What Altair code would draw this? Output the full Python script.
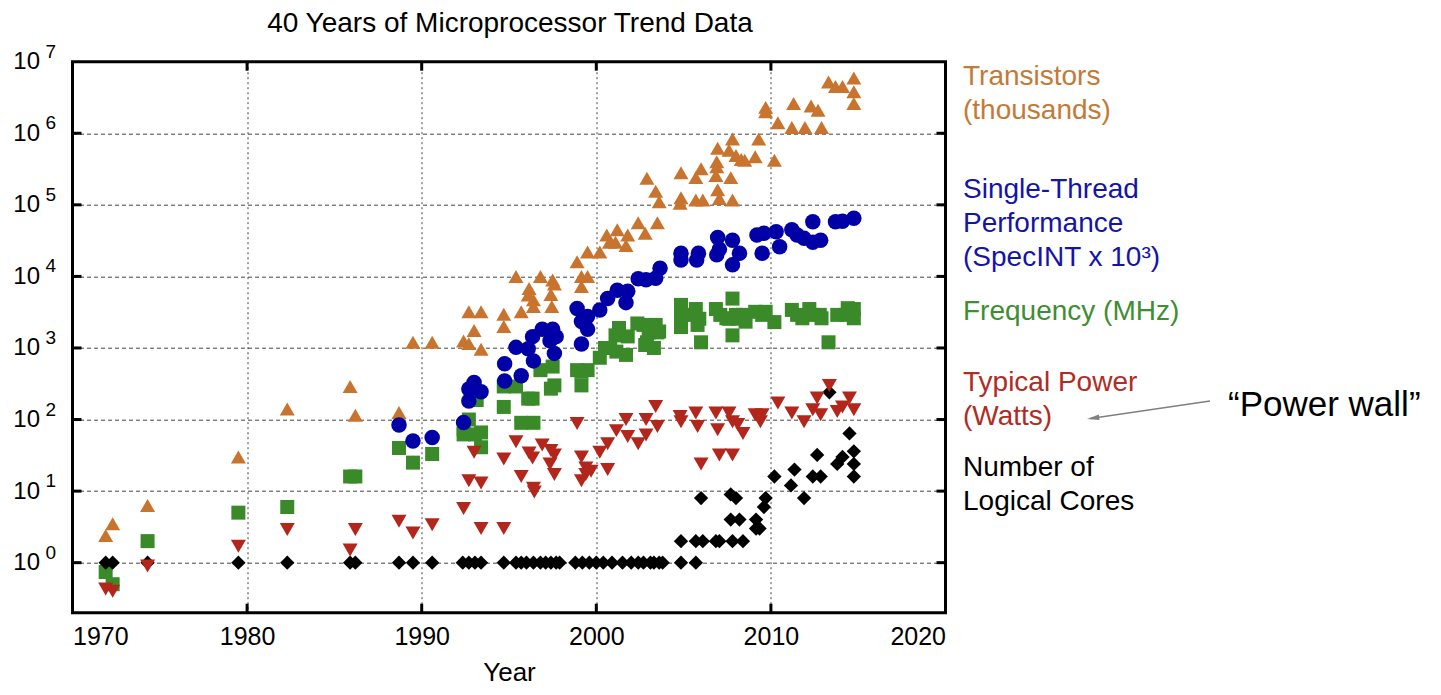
import altair as alt
import pandas as pd

# ---------------- data ----------------
trans_year = [1971.9, 1972.3, 1974.3, 1979.5, 1982.3, 1985.9, 1986.2, 1988.7, 1989.5, 1990.6,
              1992.4, 1992.7, 1992.7, 1993.4, 1993.0, 1993.4, 1994.7, 1994.7, 1995.4, 1995.7,
              1996.1, 1996.15, 1996.4, 1996.4, 1996.8, 1997.4, 1997.5, 1997.6, 1997.45, 1998.9,
              1999.15, 1999.5, 1999.15, 1999.5, 2000.2, 2000.6, 2000.75, 2001.2, 2001.1, 2001.7,
              2001.8, 2002.4, 2002.8, 2003.5, 2002.9, 2003.4, 2003.6, 2004.85, 2004.85, 2004.8,
              2006.0, 2005.7, 2005.7, 2006.1, 2006.9, 2006.9, 2006.85, 2006.95, 2007.05, 2007.7,
              2007.8, 2007.8, 2006.95, 2007.6, 2008.0, 2008.3, 2008.5, 2009.3, 2009.1, 2010.2,
              2009.7, 2009.7, 2010.4, 2011.2, 2011.3, 2011.95, 2012.3, 2012.7, 2012.9, 2013.3,
              2013.7, 2014.1, 2014.75, 2014.75, 2014.75]
trans_val = [2.4, 3.5, 6.3, 30, 140, 290, 115, 125, 1200, 1200,
             1250, 1150, 3200, 3200, 1750, 960, 2950, 2000, 10000, 3200,
             5500, 6800, 4700, 3800, 10000, 5600, 8900, 7800, 3800, 16000,
             10000, 10000, 7200, 22000, 22000, 38000, 30000, 45000, 30000, 27000,
             38000, 56000, 40000, 56000, 235000, 155000, 110000, 280000, 126000, 105000,
             320000, 240000, 117000, 117000, 400000, 340000, 257000, 162000, 123000, 240000,
             117000, 830000, 617000, 580000, 490000, 430000, 420000, 830000, 470000, 420000,
             2300000, 2000000, 1400000, 1200000, 2600000, 1200000, 2400000, 2100000, 1200000, 5200000,
             4500000, 4500000, 5900000, 3800000, 2600000]

perf_year = [1988.7, 1989.5, 1990.6, 1992.4, 1992.7, 1992.7, 1993.0, 1993.4, 1994.75, 1994.75,
             1995.7, 1995.4, 1996.1, 1996.35, 1996.4, 1996.9, 1997.5, 1997.7, 1997.35, 1997.6,
             1998.9, 1999.15, 1999.5, 1999.5, 1999.15, 2000.2, 2000.65, 2001.2, 2001.8, 2001.7,
             2002.4, 2002.85, 2003.4, 2003.65, 2004.85, 2004.85, 2005.85, 2005.75, 2006.95, 2007.8,
             2006.9, 2007.05, 2008.2, 2007.8, 2009.2, 2009.6, 2010.3, 2009.5, 2010.5, 2011.2,
             2011.5, 2011.9, 2012.4, 2012.85, 2012.4, 2013.7, 2014.1, 2014.75]
perf_val = [84, 50, 56, 91, 181, 268, 330, 245, 600, 345,
            410, 1020, 975, 1440, 660, 1830, 1830, 1440, 1260, 840,
            3570, 2340, 2750, 1830, 1140, 3400, 4900, 6400, 6200, 4300,
            9300, 9000, 9400, 13000, 21000, 17000, 21000, 17000, 35000, 32000,
            20000, 24000, 21000, 14500, 38000, 40000, 42000, 21000, 26000, 45000,
            38000, 34000, 30000, 32000, 58000, 58000, 59000, 65000]

freq_year = [1971.9, 1972.3, 1974.3, 1979.5, 1982.3, 1985.9, 1986.2, 1988.7, 1989.5, 1990.6,
             1992.4, 1992.7, 1992.4, 1993.05, 1993.4, 1993.4, 1993.15, 1994.7, 1994.7, 1995.4,
             1995.7, 1996.4, 1996.1, 1996.35, 1996.8, 1997.5, 1997.4, 1997.6, 1998.9, 1999.5,
             1999.15, 1999.15, 2000.2, 2000.5, 2000.8, 2001.15, 2001.7, 2001.3, 2001.1, 2001.8,
             2002.35, 2002.7, 2003.0, 2003.4, 2003.5, 2002.9, 2003.3, 2002.8, 2003.6, 2004.85,
             2004.85, 2004.85, 2005.25, 2005.7, 2005.9, 2005.8, 2006.0, 2006.85, 2007.1, 2007.45,
             2007.8, 2008.0, 2007.6, 2007.8, 2008.1, 2008.4, 2008.55, 2009.1, 2009.5, 2009.7,
             2010.2, 2011.2, 2011.5, 2011.8, 2012.2, 2012.4, 2012.8, 2012.9, 2013.3, 2013.8,
             2014.3, 2014.4, 2014.75, 2014.75]
freq_val = [0.74, 0.5, 2.0, 5.0, 6.0, 16, 16, 40, 25, 33,
            73, 100, 62, 62, 66, 41, 187, 290, 150, 290,
            90, 90, 196, 196, 490, 550, 270, 300, 490, 490,
            300, 466, 730, 1000, 1000, 890, 800, 1900, 1500, 1450,
            2200, 2100, 1650, 2100, 1650, 1200, 1000, 1100, 1700, 2900,
            1960, 4000, 2900, 3500, 2560, 2100, 1200, 3500, 2900, 2600,
            4900, 2900, 2560, 1500, 2560, 2900, 2330, 3200, 2900, 3200,
            2300, 3400, 2900, 2600, 3500, 2900, 2900, 2600, 1200, 2900,
            2900, 3600, 3500, 2600]

power_year = [1971.9, 1972.3, 1974.3, 1979.5, 1982.3, 1985.9, 1986.2, 1988.7, 1989.5, 1990.6,
              1992.4, 1992.7, 1993.4, 1993.4, 1993.0, 1994.7, 1994.7, 1995.4, 1995.7, 1996.15,
              1996.35, 1996.4, 1996.45, 1996.9, 1997.4, 1997.6, 1997.35, 1997.6, 1998.9, 1999.15,
              1999.4, 1999.4, 1999.15, 1999.7, 2000.2, 2000.65, 2000.65, 2001.15, 2001.7, 2001.8,
              2002.4, 2002.85, 2002.85, 2003.4, 2003.5, 2004.8, 2004.85, 2005.7, 2005.8, 2006.0,
              2006.85, 2006.95, 2007.05, 2007.6, 2007.8, 2007.8, 2008.1, 2008.4, 2009.1, 2009.5,
              2009.4, 2010.4, 2011.2, 2011.9, 2012.4, 2012.65, 2012.85, 2013.35, 2013.8, 2014.1,
              2014.5, 2014.75]
power_val = [0.43, 0.40, 0.9, 1.7, 2.9, 1.5, 2.9, 3.8, 2.6, 3.4,
             5.7, 14, 13, 3.0, 35, 28, 3.0, 49, 16, 34,
             29, 11, 9.7, 44, 37, 32, 24, 17, 88, 30,
             21, 17, 14, 19, 35, 20, 46, 70, 100, 58,
             46, 100, 61, 152, 80, 110, 93, 123, 80, 24,
             123, 72, 32, 123, 93, 32, 85, 64, 117, 117,
             93, 170, 123, 93, 137, 200, 117, 300, 130, 150,
             200, 137]

cores_year = [1971.9, 1972.3, 1974.3, 1979.5, 1982.3, 1985.9, 1986.2, 1988.7, 1989.5, 1990.6,
              1992.35, 1992.7, 1993.05, 1993.4, 1994.7, 1995.4, 1995.7, 1996.0, 1996.4, 1996.8,
              1997.1, 1997.4, 1997.7, 1997.9, 1998.8, 1999.2, 1999.6, 2000.0, 2000.4, 2000.9,
              2001.5, 2002.0, 2002.4, 2002.7, 2003.1, 2003.3, 2003.6, 2003.8, 2004.85, 2005.7,
              2004.85, 2005.7, 2006.1, 2006.85, 2007.05, 2007.8, 2008.4, 2006.0, 2007.7, 2008.0,
              2007.7, 2008.2, 2009.15, 2009.35, 2009.15, 2009.6, 2009.7, 2010.2, 2011.35, 2011.15,
              2011.9, 2012.4, 2012.85, 2012.65, 2013.35, 2013.8, 2014.1, 2014.5, 2014.75, 2014.75,
              2014.75]
cores_val = [1, 1, 1, 1, 1, 1, 1, 1, 1, 1,
             1, 1, 1, 1, 1, 1, 1, 1, 1, 1,
             1, 1, 1, 1, 1, 1, 1, 1, 1, 1,
             1, 1, 1, 1, 1, 1, 1, 1, 1, 1,
             2, 2, 2, 2, 2, 2, 2, 8, 9, 8,
             4, 4, 4, 3, 3, 6, 8, 16, 20, 12,
             8, 16, 16, 32, 240, 24, 30, 64, 36, 24,
             16]

x_ticks = [1970, 1980, 1990, 2000, 2010, 2020]
y_decades = [1, 10, 100, 1000, 10000, 100000, 1000000, 10000000]
y_exponents = ["0", "1", "2", "3", "4", "5", "6", "7"]
inner_x_ticks = [1980, 1990, 2000, 2010]
inner_y_ticks = [1, 10, 100, 1000, 10000, 100000, 1000000]

# ---------------- layout ----------------
W, H = 873, 551
FONT = "Liberation Sans"

xs = alt.Scale(domain=[1970, 2020], nice=False, zero=False)
ys = alt.Scale(type="log", domain=[0.2, 1e7], nice=False)

x_axis = alt.Axis(values=x_ticks, format="d", title="Year", grid=True,
                  gridDash=[2, 3], gridColor="#444", gridWidth=1,
                  ticks=False, tickSize=0, domain=False,
                  labelFontSize=25, labelPadding=12, labelColor="black", labelFont=FONT,
                  titleFontSize=26, titleFontWeight="normal", titleColor="black", titleFont=FONT,
                  titleY=67.5, titleBaseline="alphabetic")
y_axis = alt.Axis(values=y_decades, labelExpr="'10'", title=None, grid=True,
                  gridDash=[4, 3], gridColor="#444", gridWidth=1,
                  ticks=False, tickSize=0, domain=False,
                  labelFontSize=24, labelPadding=33, labelColor="black", labelFont=FONT)

x_enc = alt.X("year:Q", scale=xs, axis=x_axis)
y_enc = alt.Y("value:Q", scale=ys, axis=y_axis)


def df(years, vals):
    return pd.DataFrame({"year": years, "value": vals})


def pts(years, vals, shape, color, size):
    return alt.Chart(df(years, vals)).mark_point(
        shape=shape, filled=True, size=size, color=color, opacity=1, strokeWidth=0
    ).encode(x=x_enc, y=y_enc)


trans = pts(trans_year, trans_val, "triangle-up", "#C8742E", 225)
freq = pts(freq_year, freq_val, "square", "#3A8A2A", 196)
perf = pts(perf_year, perf_val, "circle", "#0000A6", 240)
cores = pts(cores_year, cores_val, "diamond", "black", 205)
power = pts(power_year, power_val, "triangle-down", "#B2261C", 225)

one = pd.DataFrame({"a": [0]})

# plot frame and inner tick marks (gnuplot style, inside the frame)
frame = alt.Chart(one).mark_rect(filled=False, stroke="black", strokeWidth=3).encode(
    x=alt.value(0), x2=alt.value(W), y=alt.value(0), y2=alt.value(H))
ytick_df = pd.DataFrame({"value": inner_y_ticks})
xtick_df = pd.DataFrame({"year": inner_x_ticks})
tick_left = alt.Chart(ytick_df).mark_rule(color="black", strokeWidth=3).encode(
    y=y_enc, x=alt.value(0), x2=alt.value(9))
tick_right = alt.Chart(ytick_df).mark_rule(color="black", strokeWidth=3).encode(
    y=y_enc, x=alt.value(W - 9), x2=alt.value(W))
tick_bottom = alt.Chart(xtick_df).mark_rule(color="black", strokeWidth=3).encode(
    x=x_enc, y=alt.value(H - 9), y2=alt.value(H))
tick_top = alt.Chart(xtick_df).mark_rule(color="black", strokeWidth=3).encode(
    x=x_enc, y=alt.value(0), y2=alt.value(9))

# exponents of the y tick labels
exp_df = pd.DataFrame({"value": y_decades, "exp": y_exponents})
exps = alt.Chart(exp_df).mark_text(
    align="left", baseline="middle", dy=-10, fontSize=19, font=FONT, color="black"
).encode(y=y_enc, x=alt.value(-27), text="exp:N")

title = alt.Chart(one).mark_text(
    align="center", baseline="alphabetic", fontSize=28, font=FONT, color="black"
).encode(x=alt.value(W / 2 + 1), y=alt.value(-30),
         text=alt.value("40 Years of Microprocessor Trend Data"))


def label(lines, color, ypix):
    return alt.Chart(one).mark_text(
        align="left", baseline="middle", fontSize=28, lineHeight=34, font=FONT, color=color
    ).encode(x=alt.value(890.5), y=alt.value(ypix), text=alt.value(lines))


lab_t = label(["Transistors", "(thousands)"], "#C47A36", 15.0)
lab_p = label(["Single-Thread", "Performance", "(SpecINT x 10³)"], "#1414A8", 128.3)
lab_f = label(["Frequency (MHz)"], "#3E8E32", 250.3)
lab_w = label(["Typical Power", "(Watts)"], "#B02C24", 321.3)
lab_c = label(["Number of", "Logical Cores"], "black", 406.3)

arrow_line = alt.Chart(one).mark_rule(color="#808080", strokeWidth=1.5).encode(
    x=alt.value(1137.5), y=alt.value(339.3), x2=alt.value(1018), y2=alt.value(356.8))
arrow_head = alt.Chart(one).mark_point(
    shape="M-1,0L1,-0.45L1,0.45Z", filled=True, size=150, color="#808080",
    opacity=1, angle=351.7, strokeWidth=0
).encode(x=alt.value(1020.6), y=alt.value(356.4))
power_wall = alt.Chart(one).mark_text(
    align="left", baseline="middle", fontSize=35, font=FONT, color="black"
).encode(x=alt.value(1155.5), y=alt.value(343.3), text=alt.value("\u201cPower wall\u201d"))

chart = alt.layer(
    tick_left, tick_right, tick_bottom, tick_top,
    trans, freq, perf, cores, power, frame,
    exps, title, lab_t, lab_p, lab_f, lab_w, lab_c,
    arrow_line, arrow_head, power_wall,
).properties(
    width=W, height=H,
    autosize=alt.AutoSizeParams(type="none"),
    padding={"left": 64.5, "top": 53.7, "right": 487.5, "bottom": 74.3},
).configure_view(
    stroke="black", strokeWidth=3
).configure(font=FONT)

chart.save("out.html", embed_options={"renderer": "svg", "actions": False})
